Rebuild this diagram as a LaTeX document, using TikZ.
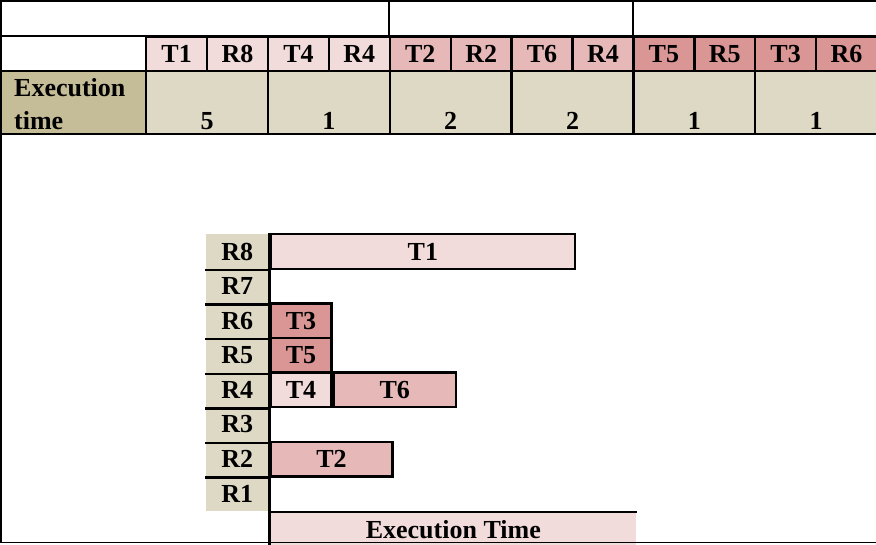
\documentclass[tikz,border=0pt]{standalone}
\usepackage{fontspec}
\setmainfont{Liberation Serif}
\usetikzlibrary{positioning}
\definecolor{pinkA}{HTML}{F2DCDB}
\definecolor{pinkB}{HTML}{E6B9B8}
\definecolor{pinkC}{HTML}{DA9694}
\definecolor{tanA}{HTML}{DDD9C4}
\definecolor{tanB}{HTML}{C4BD97}

\begin{document}
\begin{tikzpicture}[x=1pt,y=-1pt,line width=2.4pt,
  font=\fontsize{26}{33}\selectfont\bfseries,
  cell/.style={draw,inner sep=0pt,minimum width=60.9pt,minimum height=34pt,anchor=north west},
  tcell/.style={cell,fill=tanA,minimum width=121.8pt,minimum height=63pt},
  rlab/.style={fill=tanA,inner sep=0pt,minimum width=62pt,minimum height=34.6pt,anchor=north west},
  bar/.style={draw,inner sep=0pt,minimum height=34.6pt,anchor=north west}]
\useasboundingbox (0,0) rectangle (876,545);

% header: task / resource pairs
\foreach \lab/\col [count=\i] in {T1/pinkA,R8/pinkA,T4/pinkA,R4/pinkA,
    T2/pinkB,R2/pinkB,T6/pinkB,R4/pinkB,T5/pinkC,R5/pinkC,T3/pinkC,R6/pinkC}
  \node[cell,fill=\col] (h\i) at ({145+60.9*(\i-1)},36) {\lab};

% execution time row
\node[cell,fill=tanB,minimum width=145pt,minimum height=63pt] (exlab) at (0,70) {};
\node[anchor=base west,inner sep=0pt] (ex1) at (13,97) {Execution};
\node[anchor=base west,inner sep=0pt] (ex2) at (13,130) {time};
\foreach \v [count=\i] in {5,1,2,2,1,1} {
  \node[tcell] (e\i) at ({145+121.8*(\i-1)},70) {};
  \node[anchor=base,inner sep=0pt] (n\i) at ([yshift=6pt]e\i.south) {\v};
}

% top frame
\draw (0,1) -- (876,1);
\draw (389,1) -- (389,36);
\draw (633,1) -- (633,36);
\draw (0,36) -- (876,36);
\draw (1,0) -- (1,542);

% resources R8 ... R1
\foreach \r [count=\i] in {8,...,1}
  \node[rlab] (r\r) at (205,{233+34.6*(\i-1)}) {R\r};
\foreach \r in {8,...,2}
  \draw (r\r.south west) -- (r\r.south east);

% schedule bars
\node[bar,fill=pinkA,minimum width=304.5pt] (b1) at (r8.north east) {T1};
\node[bar,fill=pinkC,minimum width=60.9pt] (b3) at (r6.north east) {T3};
\node[bar,fill=pinkC,minimum width=60.9pt] (b5) at (r5.north east) {T5};
\node[bar,fill=pinkA,minimum width=60.9pt] (b4) at (r4.north east) {T4};
\node[bar,fill=pinkB,minimum width=121.8pt] (b6) at (b4.north east) {T6};
\node[bar,fill=pinkB,minimum width=121.8pt] (b2) at (r2.north east) {T2};

% time axis
\node[fill=pinkA,inner sep=0pt,minimum width=365.4pt,minimum height=32pt,
  anchor=north west] (xbar) at (r1.south east) {Execution Time};
\draw (xbar.north west) -- (xbar.north east);
\draw (r8.north east) -- (xbar.south west);
\draw[line width=1pt] (0,542) -- (876,542);
\end{tikzpicture}
\end{document}
